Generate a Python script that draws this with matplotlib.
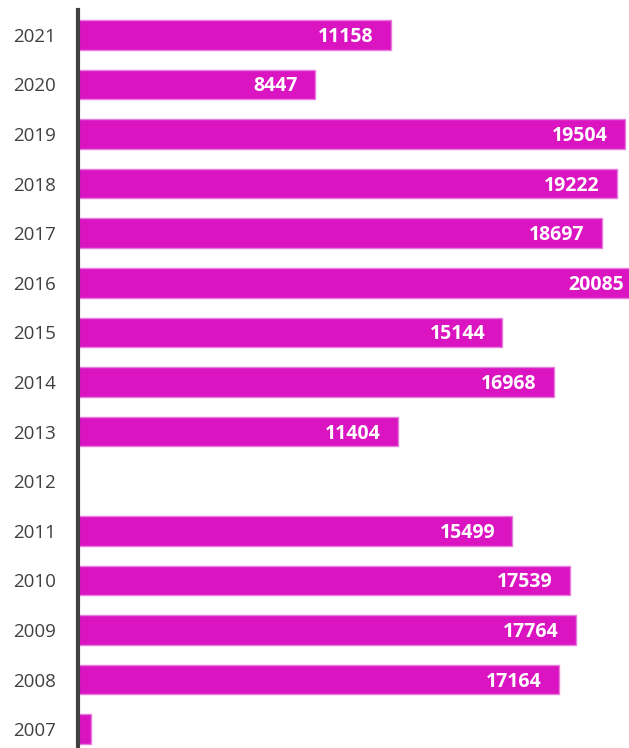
import matplotlib
matplotlib.use('Agg')
import matplotlib.pyplot as plt
import numpy as np

years = ['2007', '2008', '2009', '2010', '2011', '2012', '2013', '2014',
         '2015', '2016', '2017', '2018', '2019', '2020', '2021']
values = [450, 17164, 17764, 17539, 15499, 0, 11404, 16968,
          15144, 20085, 18697, 19222, 19504, 8447, 11158]
shown_labels = [None, '17164', '17764', '17539', '15499', None, '11404', '16968',
                '15144', '20085', '18697', '19222', '19504', '8447', '11158']

bar_color = '#DB14C2'
edge_color = '#E67DDC'

fig = plt.figure(figsize=(6.29, 7.48), dpi=100)
ax = fig.add_axes([78/629, -6/748, 1 - 78/629, (748 - 10 + 6)/748])

y = np.arange(len(years))
ax.barh(y, values, height=0.6, color=bar_color, edgecolor=edge_color, linewidth=1.0)

ax.set_xlim(0, 19657)
ax.set_ylim(-0.5, len(years) - 0.5)

for yi, v, lab in zip(y, values, shown_labels):
    if lab is None:
        continue
    ax.annotate(lab, xy=(v, yi), xytext=(-12.5, -1.5), textcoords='offset points',
                ha='right', va='center', color='white', fontsize=14,
                fontweight='bold', family='Open Sans', annotation_clip=False)

ax.set_yticks(y)
ax.set_yticklabels(years, fontsize=13.5, color='#404040', family='Open Sans')
ax.tick_params(axis='y', length=0, pad=16)
ax.set_xticks([])
for s in ['top', 'right', 'bottom']:
    ax.spines[s].set_visible(False)
ax.spines['left'].set_color('#404040')
ax.spines['left'].set_linewidth(3)
ax.set_zorder(1)

fig.savefig('out.png', dpi=100)
